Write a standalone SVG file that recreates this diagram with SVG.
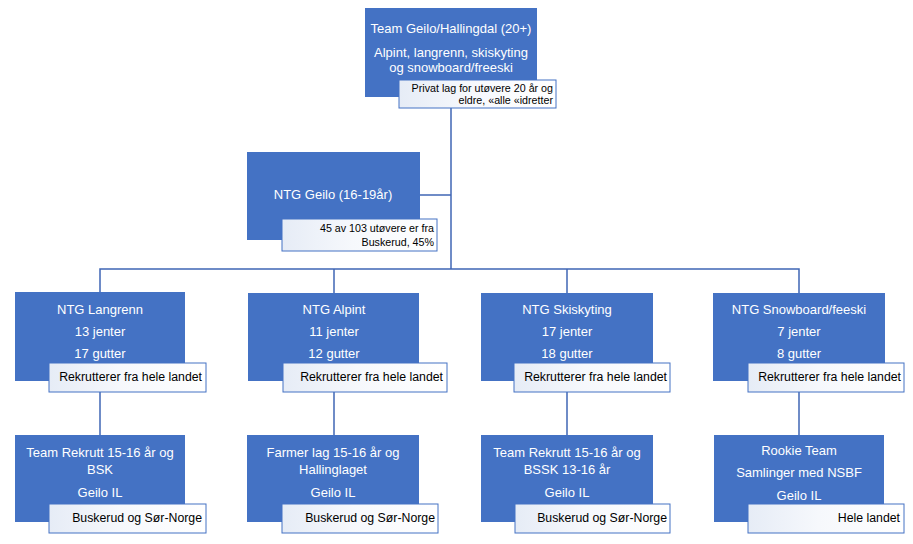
<svg xmlns="http://www.w3.org/2000/svg" width="913" height="544" viewBox="0 0 913 544">
<defs>
<linearGradient id="lg" x1="0" y1="0" x2="1" y2="0">
<stop offset="0" stop-color="#e6ecf6"/>
<stop offset="0.45" stop-color="#f6f8fc"/>
<stop offset="1" stop-color="#ffffff"/>
</linearGradient>
<style>
.box{fill:#4472C4;}
.lbl{fill:url(#lg);stroke:#4472C4;stroke-width:1;}
.t{font-family:"Liberation Sans",Arial,sans-serif;font-size:13px;fill:#ffffff;text-anchor:middle;}
.s{font-family:"Liberation Sans",Arial,sans-serif;font-size:12.3px;fill:#000000;text-anchor:end;}
.xs{font-family:"Liberation Sans",Arial,sans-serif;font-size:10.7px;fill:#000000;text-anchor:end;}
.c{fill:none;stroke:#3F66B5;stroke-width:1.5;}
</style>
</defs>
<rect width="913" height="544" fill="#ffffff"/>
<g id="connectors">
<path class="c" d="M451 108 V269"/>
<path class="c" d="M420 195 H451"/>
<path class="c" d="M100 292 V269 H799 V293"/>
<path class="c" d="M334 269 V293"/>
<path class="c" d="M567 269 V293"/>
<path class="c" d="M100 392 V435"/>
<path class="c" d="M334 392 V435"/>
<path class="c" d="M567 392 V435"/>
<path class="c" d="M799 392 V435"/>
</g>
<g id="team-geilo">
<rect class="box" x="365" y="8" width="172" height="89"/>
<text class="t" x="451" y="33">Team Geilo/Hallingdal (20+)</text>
<text class="t" x="451" y="57">Alpint, langrenn, skiskyting</text>
<text class="t" x="451" y="72">og snowboard/freeski</text>
<rect class="lbl" x="399" y="80" width="157" height="28"/>
<text class="xs" x="553" y="92">Privat lag for utøvere 20 år og</text>
<text class="xs" x="553" y="104">eldre, «alle «idretter</text>
</g>
<g id="ntg-geilo">
<rect class="box" x="247" y="152" width="173" height="88"/>
<text class="t" x="333" y="199">NTG Geilo (16-19år)</text>
<rect class="lbl" x="282" y="219" width="155" height="32"/>
<text class="xs" x="434" y="232">45 av 103 utøvere er fra</text>
<text class="xs" x="434" y="246">Buskerud, 45%</text>
</g>
<g id="ntg-langrenn">
<rect class="box" x="15" y="292" width="170" height="89"/>
<text class="t" x="100" y="314">NTG Langrenn</text>
<text class="t" x="100" y="336">13 jenter</text>
<text class="t" x="100" y="358">17 gutter</text>
<rect class="lbl" x="49" y="363" width="157" height="29"/>
<text class="s" x="202" y="381">Rekrutterer fra hele landet</text>
</g>
<g id="ntg-alpint">
<rect class="box" x="248" y="293" width="171" height="88"/>
<text class="t" x="334" y="314">NTG Alpint</text>
<text class="t" x="334" y="336">11 jenter</text>
<text class="t" x="334" y="358">12 gutter</text>
<rect class="lbl" x="283" y="363" width="164" height="29"/>
<text class="s" x="443" y="381">Rekrutterer fra hele landet</text>
</g>
<g id="ntg-skiskyting">
<rect class="box" x="481" y="293" width="172" height="88"/>
<text class="t" x="567" y="314">NTG Skiskyting</text>
<text class="t" x="567" y="336">17 jenter</text>
<text class="t" x="567" y="358">18 gutter</text>
<rect class="lbl" x="514" y="363" width="156" height="29"/>
<text class="s" x="667" y="381">Rekrutterer fra hele landet</text>
</g>
<g id="ntg-snowboard">
<rect class="box" x="713" y="293" width="172" height="88"/>
<text class="t" x="799" y="314">NTG Snowboard/feeski</text>
<text class="t" x="799" y="336">7 jenter</text>
<text class="t" x="799" y="358">8 gutter</text>
<rect class="lbl" x="748" y="363" width="156" height="29"/>
<text class="s" x="901" y="381">Rekrutterer fra hele landet</text>
</g>
<g id="team-rekrutt-bsk">
<rect class="box" x="15" y="435" width="170" height="87"/>
<text class="t" x="100" y="457">Team Rekrutt 15-16 år og</text>
<text class="t" x="100" y="474">BSK</text>
<text class="t" x="100" y="497">Geilo IL</text>
<rect class="lbl" x="49" y="504" width="157" height="29"/>
<text class="s" x="202" y="522">Buskerud og Sør-Norge</text>
</g>
<g id="farmer-lag">
<rect class="box" x="247" y="435" width="172" height="87"/>
<text class="t" x="333" y="457">Farmer lag 15-16 år og</text>
<text class="t" x="333" y="474">Hallinglaget</text>
<text class="t" x="333" y="497">Geilo IL</text>
<rect class="lbl" x="282" y="504" width="156" height="29"/>
<text class="s" x="435" y="522">Buskerud og Sør-Norge</text>
</g>
<g id="team-rekrutt-bssk">
<rect class="box" x="481" y="435" width="172" height="87"/>
<text class="t" x="567" y="457">Team Rekrutt 15-16 år og</text>
<text class="t" x="567" y="474">BSSK 13-16 år</text>
<text class="t" x="567" y="497">Geilo IL</text>
<rect class="lbl" x="515" y="504" width="155" height="29"/>
<text class="s" x="667" y="522">Buskerud og Sør-Norge</text>
</g>
<g id="rookie-team">
<rect class="box" x="714" y="435" width="170" height="87"/>
<text class="t" x="799" y="455">Rookie Team</text>
<text class="t" x="799" y="477">Samlinger med NSBF</text>
<text class="t" x="799" y="500">Geilo IL</text>
<rect class="lbl" x="748" y="504" width="156" height="29"/>
<text class="s" x="900" y="522">Hele landet</text>
</g>
</svg>
